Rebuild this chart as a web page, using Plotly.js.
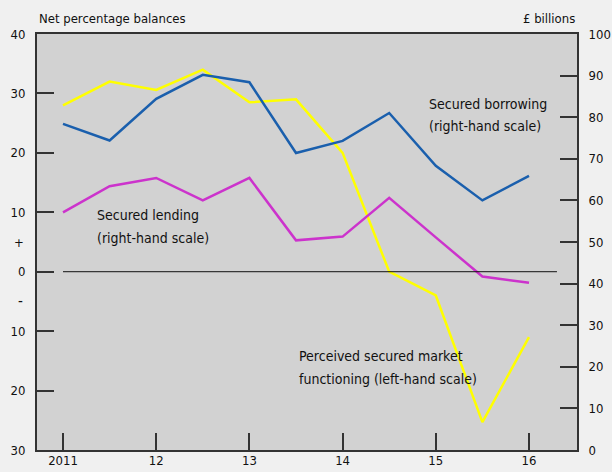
<!DOCTYPE html>
<html>
<head>
<meta charset="utf-8">
<script src="https://cdn.plot.ly/plotly-3.0.1.min.js"></script>
<style>
html,body{margin:0;padding:0;background:#f0f0f0;}
#chart{width:612px;height:472px;}
</style>
</head>
<body>
<div id="chart"></div>
<script>
// Half-yearly observations, 2011 to 2016
const xDates = [2011, 2011.5, 2012, 2012.5, 2013, 2013.5, 2014, 2014.5, 2015, 2015.5, 2016];
// Perceived secured market functioning (left-hand scale, net percentage balances)
const marketFunctioning = [28, 32, 30.6, 34, 28.5, 29, 20, 0, -4, -25.3, -11];
// Secured borrowing (right-hand scale, £ billions)
const securedBorrowing = [78.4, 74.4, 84.4, 90.2, 88.4, 71.4, 74.3, 81, 68.3, 60, 65.9];
// Secured lending (right-hand scale, £ billions)
const securedLending = [57.1, 63.4, 65.4, 60, 65.4, 50.4, 51.3, 60.6, 51.1, 41.7, 40.2];

const xTickVals = [2011, 2012, 2013, 2014, 2015, 2016];
const xTickText = ['2011', '12', '13', '14', '15', '16'];
const leftTickVals = [-30, -20, -10, 0, 10, 20, 30, 40];
const leftTickText = ['30', '20', '10', '0', '10', '20', '30', '40'];
const rightTickVals = [0, 10, 20, 30, 40, 50, 60, 70, 80, 90, 100];
const rightTickText = ['0', '10', '20', '30', '40', '50', '60', '70', '80', '90', '100'];

const FONT = '"DejaVu Sans Condensed", "Liberation Sans Narrow", "Liberation Sans", sans-serif';
const TXT = '#111111';
const FS = 13;

const traces = [
  {x: xDates, y: securedLending, yaxis: 'y2', type: 'scatter', mode: 'lines',
   line: {color: '#cc33cc', width: 2.5}, hoverinfo: 'skip'},
  {x: xDates, y: securedBorrowing, yaxis: 'y2', type: 'scatter', mode: 'lines',
   line: {color: '#1a5fad', width: 2.5}, hoverinfo: 'skip'},
  {x: xDates, y: marketFunctioning, yaxis: 'y', type: 'scatter', mode: 'lines',
   line: {color: '#ffff00', width: 2.5}, hoverinfo: 'skip'}
];

function lbl(text, x, y) {
  return {text: text, xref: 'x', yref: 'y', x: x, y: y, xanchor: 'left', yanchor: 'middle',
          align: 'left', showarrow: false, font: {family: FONT, size: 14, color: TXT}};
}

const layout = {
  width: 612, height: 472,
  margin: {l: 37, r: 35, t: 34, b: 22, pad: 0},
  paper_bgcolor: '#f0f0f0',
  plot_bgcolor: '#d2d2d2',
  showlegend: false,
  font: {family: FONT, size: FS, color: TXT},
  xaxis: {
    range: [2010.721, 2016.515],
    tickvals: xTickVals, ticktext: xTickText,
    ticks: 'inside', ticklen: 17, tickwidth: 2, tickcolor: '#333',
    showline: true, linecolor: '#333', linewidth: 2, mirror: true,
    showgrid: false, zeroline: false,
    ticklabelstandoff: -3,
    tickfont: {family: FONT, size: FS, color: TXT}
  },
  yaxis: {
    range: [-30, 40],
    tickvals: leftTickVals, ticktext: leftTickText,
    ticks: 'inside', ticklen: 17, tickwidth: 2, tickcolor: '#333',
    showline: true, linecolor: '#333', linewidth: 2,
    showgrid: false, zeroline: false,
    ticklabelstandoff: 7,
    tickfont: {family: FONT, size: FS, color: TXT}
  },
  yaxis2: {
    range: [0, 100], overlaying: 'y', side: 'right',
    tickvals: rightTickVals, ticktext: rightTickText,
    ticks: 'inside', ticklen: 17, tickwidth: 2, tickcolor: '#333',
    showline: true, linecolor: '#333', linewidth: 2,
    showgrid: false, zeroline: false,
    ticklabelstandoff: 7,
    tickfont: {family: FONT, size: FS, color: TXT}
  },
  shapes: [
    {type: 'line', xref: 'x', yref: 'y', x0: 2011, x1: 2016.3, y0: 0, y1: 0,
     line: {color: '#111', width: 1}, layer: 'above'}
  ],
  annotations: [
    {text: 'Net percentage balances', xref: 'paper', yref: 'paper', x: 0, y: 1, xanchor: 'left', yanchor: 'bottom',
     yshift: 6, showarrow: false, font: {family: FONT, size: FS, color: TXT}},
    {text: '£ billions', xref: 'paper', yref: 'paper', x: 1, y: 1, xanchor: 'right', yanchor: 'bottom',
     yshift: 6, showarrow: false, font: {family: FONT, size: FS, color: TXT}},
    {text: '+', xref: 'paper', yref: 'y', x: 0, y: 5, xanchor: 'right', xshift: -11, showarrow: false,
     font: {family: FONT, size: FS, color: TXT}},
    {text: '-', xref: 'paper', yref: 'y', x: 0, y: -5, xanchor: 'right', xshift: -12, showarrow: false,
     font: {family: FONT, size: 15, color: TXT}},
    lbl('Secured borrowing', 2014.906, 28.3),
    lbl('(right-hand scale)', 2014.906, 24.5),
    lbl('Secured lending', 2011.343, 9.5),
    lbl('(right-hand scale)', 2011.343, 5.6),
    lbl('Perceived secured market', 2013.51, -14.2),
    lbl('functioning (left-hand scale)', 2013.51, -18.1)
  ]
};

Plotly.newPlot('chart', traces, layout, {staticPlot: true, displayModeBar: false});
</script>
</body>
</html>
